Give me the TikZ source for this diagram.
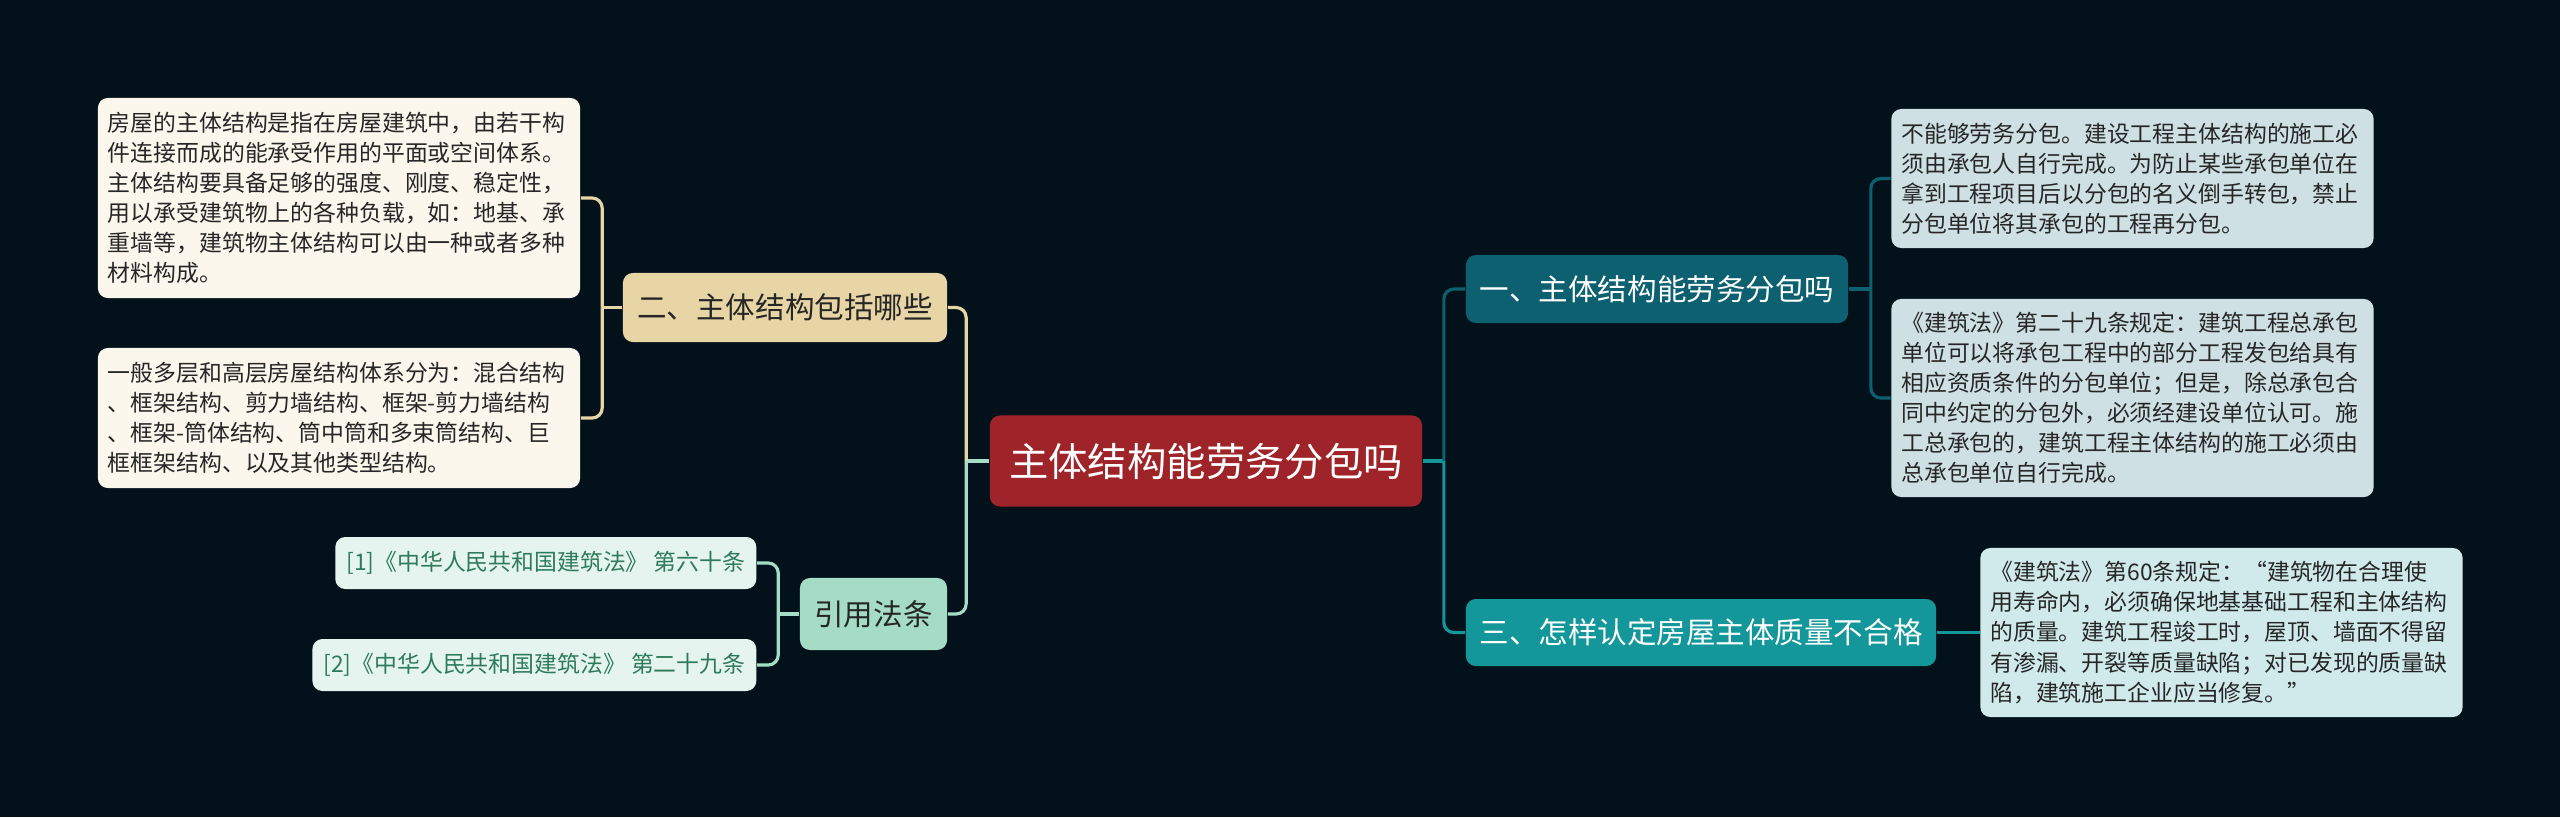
\documentclass[tikz,border=0pt]{standalone}
\usepackage{fontspec}
\newfontfamily\cjk{Noto Sans CJK SC}
\usepackage{tikz}

\definecolor{bgdark}{HTML}{03111A}
\definecolor{rootred}{HTML}{9E2429}
\definecolor{tealdark}{HTML}{0D6070}
\definecolor{teallight}{HTML}{14979A}
\definecolor{tanfill}{HTML}{E8D5A6}
\definecolor{mintfill}{HTML}{A5DCC6}
\definecolor{leafcream}{HTML}{FBF7ED}
\definecolor{leafblue}{HTML}{CFE0E5}
\definecolor{leafcyan}{HTML}{D0EAEC}
\definecolor{citefill}{HTML}{E6F4EF}
\definecolor{citetext}{HTML}{2D7B5C}
\definecolor{darktext}{HTML}{262626}

\begin{document}
\begin{tikzpicture}[x=0.01cm, y=-0.01cm,
    box/.style={rounded corners=0.1cm, inner sep=0pt, align=center},
    rootbox/.style={box, fill=rootred, text=white, minimum width=4.32cm, minimum height=0.91cm,
        font=\cjk\fontsize{11.2pt}{14pt}\selectfont},
    topic/.style={box, minimum height=0.68cm, font=\cjk\fontsize{8.4pt}{10pt}\selectfont},
    leaf/.style={box, align=left, text width=4.62cm, inner xsep=0.10cm, text=darktext,
        font=\cjk\fontsize{6.5pt}{8.54pt}\selectfont},
    cite/.style={box, anchor=east, inner xsep=0.11cm, minimum height=0.52cm, fill=citefill,
        text=citetext, font=\cjk\fontsize{6.5pt}{8pt}\selectfont},
    link/.style={line width=0.9pt, rounded corners=0.1cm}
]
    % sfondo
    \fill[bgdark] (0,0) rectangle (2560,817);

    \node[rootbox] (root) at (1206,461) {主体结构能劳务分包吗};

    % rami principali
    \node[topic, fill=tealdark, text=white, minimum width=3.82cm] (sub) at (1657,289) {一、主体结构能劳务分包吗};
    \node[topic, fill=teallight, text=white, minimum width=4.70cm, minimum height=0.67cm] (quality) at (1701,632.5) {三、怎样认定房屋主体质量不合格};
    \node[topic, fill=tanfill, text=darktext, minimum width=3.24cm, minimum height=0.69cm] (parts) at (785,307.5) {二、主体结构包括哪些};
    \node[topic, fill=mintfill, text=darktext, minimum width=1.47cm, minimum height=0.72cm] (cites) at (873.5,614) {引用法条};

    % foglie
    \node[leaf, fill=leafcream, minimum height=2.00cm] (partsa) at (339,198) {房屋的主体结构是指在房屋建筑中，由若干构\\
件连接而成的能承受作用的平面或空间体系。\\
主体结构要具备足够的强度、刚度、稳定性，\\
用以承受建筑物上的各种负载，如：地基、承\\
重墙等，建筑物主体结构可以由一种或者多种\\
材料构成。};
    \node[leaf, fill=leafcream, minimum height=1.40cm] (partsb) at (339,418) {一般多层和高层房屋结构体系分为：混合结构\\
、框架结构、剪力墙结构、框架-剪力墙结构\\
、框架-筒体结构、筒中筒和多束筒结构、巨\\
框框架结构、以及其他类型结构。};
    \node[leaf, fill=leafblue, minimum height=1.39cm] (suba) at (2132.5,178.5) {不能够劳务分包。建设工程主体结构的施工必\\
须由承包人自行完成。为防止某些承包单位在\\
拿到工程项目后以分包的名义倒手转包，禁止\\
分包单位将其承包的工程再分包。};
    \node[leaf, fill=leafblue, minimum height=1.98cm] (subb) at (2132.5,398) {《建筑法》第二十九条规定：建筑工程总承包\\
单位可以将承包工程中的部分工程发包给具有\\
相应资质条件的分包单位；但是，除总承包合\\
同中约定的分包外，必须经建设单位认可。施\\
工总承包的，建筑工程主体结构的施工必须由\\
总承包单位自行完成。};
    \node[leaf, fill=leafcyan, minimum height=1.69cm] (qualitya) at (2221.5,632.5) {《建筑法》第60条规定：“建筑物在合理使\\
用寿命内，必须确保地基基础工程和主体结构\\
的质量。建筑工程竣工时，屋顶、墙面不得留\\
有渗漏、开裂等质量缺陷；对已发现的质量缺\\
陷，建筑施工企业应当修复。”};
    \node[cite] (citea) at (757,563) {[1]《中华人民共和国建筑法》 第六十条};
    \node[cite] (citeb) at (757,665) {[2]《中华人民共和国建筑法》 第二十九条};

    % giunzioni
    \coordinate (jl) at ([xshift=-0.23cm]root.west);
    \coordinate (jr) at ([xshift=0.21cm]root.east);
    \coordinate (jparts) at ([xshift=-0.20cm]parts.west);
    \coordinate (jcites) at ([xshift=-0.21cm]cites.west);
    \coordinate (jsub) at ([xshift=0.22cm]sub.east);

    \draw[link, mintfill] (root.west) -- (jl);
    \draw[link, tanfill] (jl) |- (parts.east);
    \draw[link, mintfill] (jl) |- (cites.east);
    \draw[link, teallight] (root.east) -- (jr);
    \draw[link, tealdark] (jr) |- (sub.west);
    \draw[link, teallight] (jr) |- (quality.west);

    \draw[link, tanfill] (parts.west) -- (jparts);
    \draw[link, tanfill] (jparts) |- (partsa.east);
    \draw[link, tanfill] (jparts) |- (partsb.east);
    \draw[link, mintfill] (cites.west) -- (jcites);
    \draw[link, mintfill] (jcites) |- (citea.east);
    \draw[link, mintfill] (jcites) |- (citeb.east);
    \draw[link, tealdark] (sub.east) -- (jsub);
    \draw[link, tealdark] (jsub) |- (suba.west);
    \draw[link, tealdark] (jsub) |- (subb.west);
    \draw[link, teallight] (quality.east) -- (qualitya.west);
\end{tikzpicture}
\end{document}
